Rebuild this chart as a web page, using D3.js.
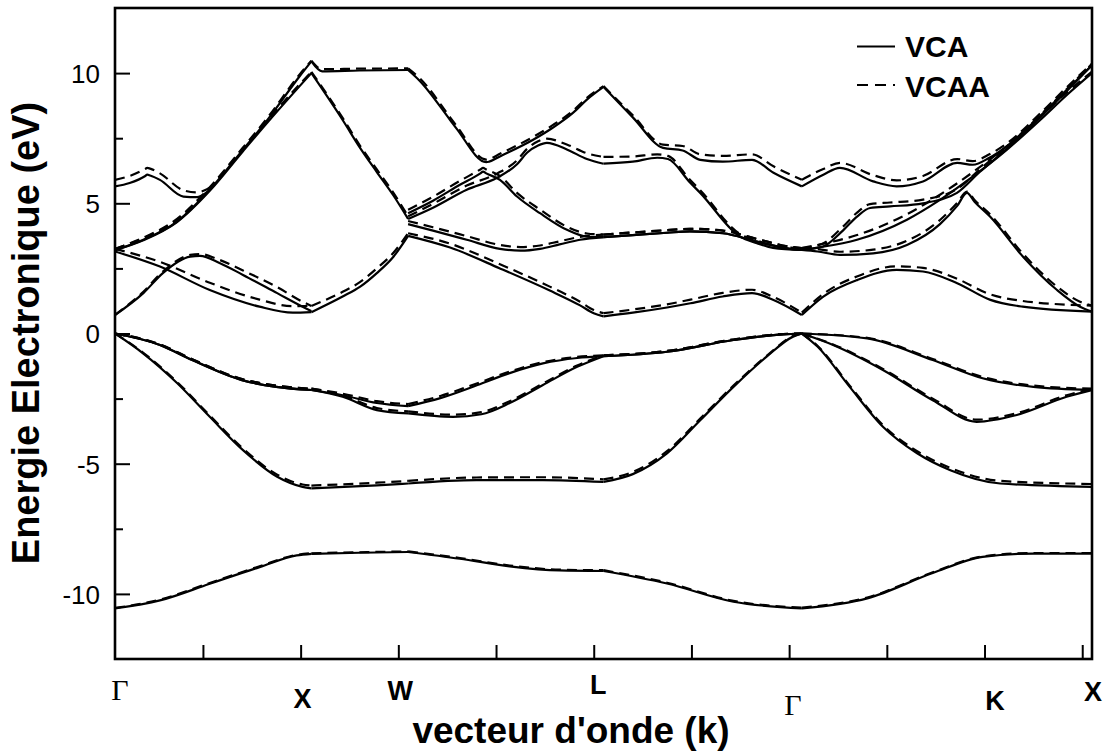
<!DOCTYPE html>
<html><head><meta charset="utf-8">
<script src="https://cdn.jsdelivr.net/npm/d3@7"></script>
<style>body{margin:0;background:#fff} svg{display:block}</style>
</head><body><svg id="c" width="1117" height="751"></svg>
<script>
// ---------- DATA ----------
const symLabels = ["Γ","X","W","L","Γ","K","X"];
const symLabelK = [1.5, 20.2, 30.2, 50.45, 70.4, 91.07, 101.1];
const symK = [1, 21.1, 31, 51, 71.3, 101];
const yMajor = [-10, -5, 0, 5, 10];
const yMinor = [-7.5, -2.5, 2.5, 7.5];
const xTicks = [10, 20, 30, 40, 50, 60, 70, 80, 90, 100];
const seriesNames = ["VCA", "VCAA"];

// VCA (solid)
const vca_v1 = [[1,-10.56],[5.6,-10.25],[10.7,-9.61],[15.8,-8.97],[19.6,-8.52],[21.1,-8.46],[26,-8.42],[31,-8.39],[36.3,-8.65],[41.4,-8.94],[46.5,-9.1],[51,-9.12],[57.5,-9.6],[64.3,-10.3],[71.3,-10.56],[78,-10.17],[84.7,-9.2],[89.8,-8.58],[95,-8.45],[101,-8.45]];
const vca_v2 = [[1,0],[3.9,-0.77],[7.35,-1.9],[10.7,-3.2],[14.1,-4.48],[17.6,-5.5],[20.2,-5.89],[21.1,-5.95],[27.8,-5.83],[31,-5.76],[38,-5.63],[44.8,-5.63],[51,-5.7],[54,-5.4],[57.5,-4.6],[60.9,-3.33],[64.3,-2.05],[67.7,-0.89],[70.4,-0.12],[71.3,0],[72.9,-0.5],[76.2,-2.05],[79.6,-3.58],[83.1,-4.6],[86.5,-5.25],[91.6,-5.76],[101,-5.89]];
const vca_v3a = [[1,0],[5.6,-0.44],[8.9,-1.02],[14.0,-1.79],[17.5,-2.05],[21.1,-2.17],[24.3,-2.37],[27.8,-2.67],[31,-2.79],[34.3,-2.48],[38.1,-1.98],[41.4,-1.52],[44.8,-1.15],[48.3,-0.94],[51,-0.87],[57.5,-0.7],[64.3,-0.25],[69.4,-0.03],[71.3,0],[78,-0.19],[84.7,-1.02],[89.8,-1.72],[95,-2.05],[101,-2.17]];
const vca_v3b = [[1,0],[5.6,-0.44],[8.9,-1.02],[14.0,-1.79],[17.5,-2.05],[21.1,-2.17],[24.3,-2.43],[27.8,-2.94],[31,-3.07],[35.6,-3.2],[38.5,-3.1],[41.4,-2.67],[44.8,-1.98],[48.3,-1.28],[51,-0.87],[57.5,-0.7],[64.3,-0.25],[69.4,-0.03],[71.3,0],[74.5,-0.44],[79.6,-1.4],[84.7,-2.56],[89.2,-3.39],[93.3,-3.13],[98.4,-2.43],[101,-2.17]];
const vca_c1 = [[1,0.71],[3.9,1.55],[5.9,2.32],[8.7,2.95],[9.7,2.98],[11.75,2.7],[14.1,2.25],[17.6,1.55],[20.2,1.03],[21.1,0.86]];
const vca_c2 = [[1,3.15],[5.6,2.57],[10.7,1.67],[15.8,1.03],[19.2,0.8],[21.1,0.82],[24.3,1.42],[26.1,1.8],[27.8,2.32],[29.5,2.95],[31,3.75],[35.3,3.3],[40.4,2.5],[45.5,1.65],[48.6,1.08],[50,0.78],[51,0.66],[54,0.8],[57.5,1.0],[59.9,1.16],[63.2,1.42],[66.2,1.55],[68.4,1.29],[71.3,0.71],[73.5,1.42],[77,2.06],[81,2.44],[83.7,2.38],[87.2,1.93],[90.6,1.29],[93.9,1.03],[101,0.84]];
const vca_c3 = [[1,3.2],[3.9,3.6],[7.35,4.3],[10.7,5.52],[14.1,7.06],[16.6,8.2],[19.9,9.88],[21.1,10.45],[22.2,10.07],[26,10.1],[31,10.12],[32.2,9.7],[35.3,8.2],[36,7.85],[39.0,6.58],[39.3,6.6],[40.4,6.8],[43.8,7.44],[45.8,7.9],[47.9,8.48],[49.3,8.98],[51,9.47],[54,8.3],[57.1,7.13],[59.1,7.03],[60.9,6.67],[63.2,6.6],[66.2,6.67],[68.4,6.17],[71.3,5.65],[73.5,6.1],[75.2,6.36],[78.6,5.84],[81,5.65],[83.7,5.84],[87.2,6.55],[88.8,6.48],[90.5,6.75],[92.3,7.2],[95.7,8.35],[98.4,9.35],[101,10.3]];
const vca_c4 = [[1,3.2],[3.9,3.58],[7.35,4.28],[10.7,5.48],[14.1,7.0],[16.6,8.1],[19.9,9.5],[21.1,10.0],[24.3,8.2],[26.1,7.12],[27.8,6.2],[29.5,5.3],[31,4.4],[33.55,4.83],[37.0,5.52],[40.1,5.98],[42.15,6.5],[43.2,6.95],[44.3,7.22],[45.2,7.32],[47.3,7.06],[49.3,6.7],[51,6.52],[54,6.6],[56.5,6.75],[57.6,6.7],[59.85,5.8],[60.9,5.4],[64.97,3.72],[66.7,3.47],[68.35,3.29],[71.3,3.21],[72.9,3.3],[76.95,3.6],[82.06,4.37],[85.44,5.13],[88.82,6.03],[92.3,7.06],[95.7,8.2],[98.4,9.15],[101,10.0]];
const vca_c5 = [[1,5.65],[2.5,5.78],[4.1,6.05],[4.3,6.1],[4.6,6.07],[5.6,5.9],[8.0,5.26],[9.4,5.24],[10.3,5.4],[10.7,5.52]];
const vca_s = [[31,4.62],[33.55,5.1],[36.3,5.71],[38.4,6.15],[38.67,6.22],[39.0,6.15],[40.4,5.9],[42.15,5.26],[44.5,4.62],[47.26,3.98],[49.31,3.72],[51,3.7],[54,3.78],[57.5,3.87],[59.85,3.92],[63.23,3.85],[66.7,3.53],[70.1,3.25],[71.3,3.21],[72.9,3.15],[75.2,3.02],[78.6,3.08],[82.06,3.4],[85.44,4.2],[87.2,4.9],[88.2,5.4],[89.0,5.05],[90.56,4.49],[93.94,2.95],[97.42,1.67],[99.77,1.03],[101,0.84]];
const vca_u = [[31,4.2],[33.55,3.95],[37,3.6],[40.4,3.25],[42.5,3.18],[44.5,3.25],[46.5,3.42],[48.6,3.6],[51,3.7],[54,3.78],[57.5,3.87],[59.85,3.92],[63.23,3.85],[66.7,3.53],[70.1,3.25],[71.3,3.21],[73.47,3.34],[75.5,3.95],[76.95,4.49],[78.28,4.82],[80.32,4.88],[83.7,5.0],[87.18,5.4],[89.5,6.2],[92.3,7.1],[95.7,8.3],[98.4,9.3],[101,10.3]];

// VCAA (dashed)
const vcaa_v1 = [[1,-10.54],[5.6,-10.22],[10.7,-9.58],[15.8,-8.94],[19.6,-8.5],[21.1,-8.44],[26,-8.4],[31,-8.37],[36.3,-8.62],[41.4,-8.91],[46.5,-9.07],[51,-9.09],[57.5,-9.57],[64.3,-10.27],[71.3,-10.53],[78,-10.14],[84.7,-9.17],[89.8,-8.56],[95,-8.43],[101,-8.43]];
const vcaa_v2 = [[1,0],[3.9,-0.74],[7.35,-1.86],[10.7,-3.15],[14.1,-4.42],[17.6,-5.42],[20.2,-5.8],[21.1,-5.84],[27.8,-5.73],[31,-5.66],[38,-5.53],[44.8,-5.52],[51,-5.6],[54,-5.32],[57.5,-4.52],[60.9,-3.27],[64.3,-2.0],[67.7,-0.86],[70.4,-0.1],[71.3,0],[72.9,-0.47],[76.2,-2.0],[79.6,-3.52],[83.1,-4.52],[86.5,-5.16],[91.6,-5.66],[101,-5.78]];
const vcaa_v3a = [[1,0],[5.6,-0.42],[8.9,-0.99],[14.0,-1.75],[17.5,-2.0],[21.1,-2.12],[24.3,-2.31],[27.8,-2.6],[31,-2.71],[34.3,-2.4],[38.1,-1.91],[41.4,-1.46],[44.8,-1.1],[48.3,-0.9],[51,-0.84],[57.5,-0.67],[64.3,-0.23],[69.4,-0.02],[71.3,0],[78,-0.17],[84.7,-0.98],[89.8,-1.67],[95,-2.0],[101,-2.12]];
const vcaa_v3b = [[1,0],[5.6,-0.42],[8.9,-0.99],[14.0,-1.75],[17.5,-2.0],[21.1,-2.12],[24.3,-2.37],[27.8,-2.86],[31,-2.99],[35.6,-3.12],[38.5,-3.02],[41.4,-2.6],[44.8,-1.92],[48.3,-1.23],[51,-0.84],[57.5,-0.67],[64.3,-0.23],[69.4,-0.02],[71.3,0],[74.5,-0.42],[79.6,-1.36],[84.7,-2.5],[89.2,-3.31],[93.3,-3.06],[98.4,-2.37],[101,-2.12]];
const vcaa_c1 = [[1,0.72],[3.9,1.6],[5.9,2.38],[8.7,3.02],[9.7,3.05],[11.75,2.82],[14.1,2.42],[17.6,1.78],[20.2,1.22],[21.1,1.06]];
const vcaa_c2 = [[1,3.25],[5.6,2.75],[10.7,1.95],[15.8,1.3],[19.2,1.05],[21.1,1.06],[24.3,1.6],[26.1,1.98],[27.8,2.5],[29.5,3.1],[31,3.85],[35.3,3.45],[40.4,2.66],[45.5,1.8],[48.6,1.22],[50,0.9],[51,0.78],[54,0.92],[57.5,1.12],[59.9,1.3],[63.2,1.56],[66.2,1.68],[68.4,1.4],[71.3,0.8],[73.5,1.52],[77,2.2],[81,2.58],[83.7,2.52],[87.2,2.1],[90.6,1.5],[93.9,1.25],[101,1.07]];
const vcaa_c3 = [[1,3.25],[3.9,3.68],[7.35,4.4],[10.7,5.62],[14.1,7.14],[16.6,8.28],[19.9,9.95],[21.1,10.48],[22.2,10.15],[26,10.17],[31,10.18],[32.2,9.8],[35.3,8.3],[36,7.95],[39.0,6.68],[39.3,6.7],[40.4,6.9],[43.8,7.55],[45.8,8.0],[47.9,8.56],[49.3,9.05],[51,9.5],[54,8.38],[57.1,7.25],[59.1,7.2],[60.9,6.88],[63.2,6.82],[66.2,6.88],[68.4,6.42],[71.3,5.9],[73.5,6.32],[75.2,6.55],[78.6,6.08],[81,5.88],[83.7,6.05],[87.2,6.7],[88.8,6.62],[90.5,6.88],[92.3,7.3],[95.7,8.45],[98.4,9.45],[101,10.36]];
const vcaa_c4 = [[1,3.25],[3.9,3.66],[7.35,4.36],[10.7,5.57],[14.1,7.08],[16.6,8.18],[19.9,9.57],[21.1,10.05],[24.3,8.28],[26.1,7.2],[27.8,6.3],[29.5,5.4],[31,4.5],[33.55,4.98],[37.0,5.68],[40.1,6.14],[42.15,6.65],[43.2,7.1],[44.3,7.38],[45.2,7.48],[47.3,7.25],[49.3,6.92],[51,6.78],[54,6.8],[56.5,6.88],[57.6,6.82],[59.85,5.9],[60.9,5.5],[64.97,3.82],[66.7,3.57],[68.35,3.37],[71.3,3.28],[72.9,3.4],[76.95,3.78],[82.06,4.58],[85.44,5.33],[88.82,6.2],[92.3,7.2],[95.7,8.32],[98.4,9.25],[101,10.06]];
const vcaa_c5 = [[1,5.9],[2.5,6.05],[4.1,6.32],[4.3,6.36],[4.6,6.33],[5.6,6.15],[8.0,5.5],[9.4,5.42],[10.3,5.52],[10.7,5.6]];
const vcaa_s = [[31,4.75],[33.55,5.25],[36.3,5.86],[38.4,6.3],[38.67,6.36],[39.0,6.3],[40.4,6.05],[42.15,5.4],[44.5,4.76],[47.26,4.1],[49.31,3.84],[51,3.8],[54,3.88],[57.5,3.97],[59.85,4.02],[63.23,3.95],[66.7,3.63],[70.1,3.33],[71.3,3.28],[72.9,3.24],[75.2,3.14],[78.6,3.22],[82.06,3.56],[85.44,4.36],[87.2,5.02],[88.2,5.45],[89.0,5.12],[90.56,4.58],[93.94,3.06],[97.42,1.8],[99.77,1.22],[101,1.07]];
const vcaa_u = [[31,4.32],[33.55,4.08],[37,3.74],[40.4,3.4],[42.5,3.32],[44.5,3.38],[46.5,3.54],[48.6,3.71],[51,3.8],[54,3.88],[57.5,3.97],[59.85,4.02],[63.23,3.95],[66.7,3.63],[70.1,3.33],[71.3,3.28],[73.47,3.46],[75.5,4.1],[76.95,4.64],[78.28,4.97],[80.32,5.03],[83.7,5.14],[87.18,5.55],[89.5,6.3],[92.3,7.18],[95.7,8.38],[98.4,9.38],[101,10.36]];

const vcaBands = [vca_v1, vca_v2, vca_v3a, vca_v3b, vca_c1, vca_c2, vca_c3, vca_c4, vca_c5, vca_s, vca_u];
const vcaaBands = [vcaa_v1, vcaa_v2, vcaa_v3a, vcaa_v3b, vcaa_c1, vcaa_c2, vcaa_c3, vcaa_c4, vcaa_c5, vcaa_s, vcaa_u];

// ---------- LAYOUT ----------
const W = 1117, H = 751;
const P = {left: 115, right: 1092, top: 8, bottom: 659};
const labelBaseline = [700, 708, 700, 694, 715, 710, 701];

const x = d3.scaleLinear().domain([1, 101]).range([P.left, P.right]);
const y = d3.scaleLinear().domain([-12.5, 12.5]).range([P.bottom, P.top]);

const svg = d3.select('#c');
svg.append('rect').attr('width', W).attr('height', H).attr('fill', '#fff');

svg.append('defs').append('clipPath').attr('id', 'pc')
  .append('rect').attr('x', P.left).attr('y', P.top)
  .attr('width', P.right - P.left).attr('height', P.bottom - P.top);

const line = d3.line().x(d => x(d[0])).y(d => y(d[1])).curve(d3.curveMonotoneX);

function pieces(band) {
  const out = [];
  let cur = [];
  band.forEach((p, i) => {
    cur.push(p);
    if (i > 0 && i < band.length - 1 && symK.includes(p[0])) {
      out.push(cur);
      cur = [p];
    }
  });
  if (cur.length > 1) out.push(cur);
  return out;
}

const g = svg.append('g').attr('clip-path', 'url(#pc)');
vcaBands.forEach(b => pieces(b).forEach(pc => {
  g.append('path').attr('d', line(pc)).attr('fill', 'none')
    .attr('stroke', '#000').attr('stroke-width', 2.2).attr('stroke-linejoin', 'round');
}));
vcaaBands.forEach(b => pieces(b).forEach(pc => {
  g.append('path').attr('d', line(pc)).attr('fill', 'none')
    .attr('stroke', '#000').attr('stroke-width', 2.2).attr('stroke-dasharray', '10,6');
}));

// axes
const yAx = svg.append('g').attr('transform', `translate(${P.left},0)`)
  .call(d3.axisLeft(y).tickValues(yMajor).tickSize(-15).tickPadding(15).tickFormat(d3.format('d')));
const yAxm = svg.append('g').attr('transform', `translate(${P.left},0)`)
  .call(d3.axisLeft(y).tickValues(yMinor).tickSize(-8).tickFormat(''));
const xAx = svg.append('g').attr('transform', `translate(0,${P.bottom})`)
  .call(d3.axisBottom(x).tickValues(xTicks).tickSize(-14).tickFormat(''));
[yAx, yAxm, xAx].forEach(a => {
  a.select('.domain').remove();
  a.selectAll('line').attr('stroke', '#000').attr('stroke-width', 2);
});
yAx.selectAll('text').attr('font-family', 'Liberation Sans, Arial, sans-serif')
  .attr('font-size', 26).attr('fill', '#000').attr('dy', '0.36em');
yAx.selectAll('text').text(d => d < 0 ? '-' + Math.abs(d) : d);

// frame
svg.append('rect').attr('x', P.left).attr('y', P.top)
  .attr('width', P.right - P.left).attr('height', P.bottom - P.top)
  .attr('fill', 'none').attr('stroke', '#000').attr('stroke-width', 2.6);

// symmetry labels
symLabels.forEach((s, i) => {
  const isG = s === 'Γ';
  svg.append('text').attr('x', x(symLabelK[i])).attr('y', labelBaseline[i])
    .attr('text-anchor', 'middle')
    .attr('font-family', isG ? 'Liberation Serif, Times New Roman, serif' : 'Liberation Sans, Arial, sans-serif')
    .attr('font-weight', isG ? 'normal' : 'bold')
    .attr('font-size', isG ? 30 : 27)
    .text(s);
});

// axis titles
svg.append('text').attr('x', 571).attr('y', 743).attr('text-anchor', 'middle')
  .attr('font-family', 'Liberation Sans, Arial, sans-serif').attr('font-weight', 'bold')
  .attr('font-size', 37).text("vecteur d'onde (k)");
svg.append('text').attr('transform', 'translate(39,333) rotate(-90)').attr('text-anchor', 'middle')
  .attr('font-family', 'Liberation Sans, Arial, sans-serif').attr('font-weight', 'bold')
  .attr('font-size', 38).text('Energie Electronique (eV)');

// legend
const lg = svg.append('g');
lg.append('line').attr('x1', 857).attr('x2', 895).attr('y1', 46.5).attr('y2', 46.5)
  .attr('stroke', '#000').attr('stroke-width', 2.2);
lg.append('line').attr('x1', 857).attr('x2', 895).attr('y1', 85).attr('y2', 85)
  .attr('stroke', '#000').attr('stroke-width', 2.2).attr('stroke-dasharray', '11,7');
lg.append('text').attr('x', 905).attr('y', 57).attr('font-family', 'Liberation Sans, Arial, sans-serif')
  .attr('font-weight', 'bold').attr('font-size', 30).text(seriesNames[0]);
lg.append('text').attr('x', 905).attr('y', 97).attr('font-family', 'Liberation Sans, Arial, sans-serif')
  .attr('font-weight', 'bold').attr('font-size', 30).text(seriesNames[1]);
</script></body></html>
